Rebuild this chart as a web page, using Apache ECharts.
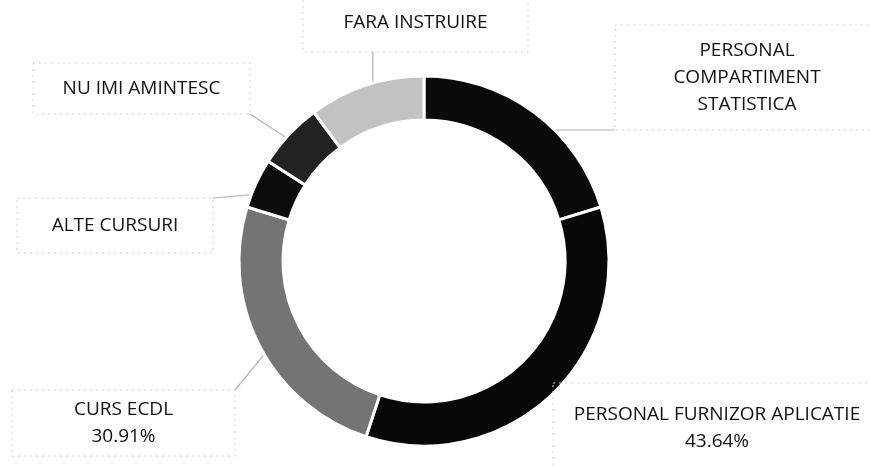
<!DOCTYPE html>
<html><head><meta charset="utf-8">
<script src="https://cdn.jsdelivr.net/npm/echarts@6/dist/echarts.min.js"></script>
<style>html,body{margin:0;padding:0;background:#fff}#c{width:870px;height:469px}</style>
</head><body><div id="c"></div>
<script>
// ---- data ----
var categories = ['PERSONAL COMPARTIMENT STATISTICA', 'PERSONAL FURNIZOR APLICATIE', 'CURS ECDL', 'ALTE CURSURI', 'NU IMI AMINTESC', 'FARA INSTRUIRE'];
var labelText = [['PERSONAL', 'COMPARTIMENT', 'STATISTICA'], ['PERSONAL FURNIZOR APLICATIE'], ['CURS ECDL'], ['ALTE CURSURI'], ['NU IMI AMINTESC'], ['FARA INSTRUIRE']];
var values = [14, 24, 17, 3, 4, 7];
var shownPercent = ['', '43.64%', '30.91%', '', '', ''];

// ---- layout / style (not data) ----
var colors = ['#0a0a0a', '#080808', '#747474', '#0c0c0c', '#222222', '#c2c2c2'];
// label boxes [x0, y0, x1, y1] and the y of the text block centre
var boxes = [[615, 25, 879, 130], [553, 383, 881, 474], [12, 390, 235, 456], [17, 198, 213, 253], [33, 63, 250, 114], [303, -6, 528, 52]];
var textCY = [80, 428.5, 423.5, 225, 90, 27];
var LH = 27;

var chart = echarts.init(document.getElementById('c'), null, {renderer: 'canvas'});
var data = categories.map(function (name, i) {
  var lines = labelText[i].slice();
  if (shownPercent[i]) lines.push(shownPercent[i]);
  var b = boxes[i];
  var h = lines.length * LH;
  var pt = textCY[i] - b[1] - h / 2;
  var pb = b[3] - textCY[i] - h / 2;
  return {
    name: name,
    value: values[i],
    itemStyle: {color: colors[i]},
    label: {
      formatter: lines.join('\n'),
      width: b[2] - b[0],
      padding: [pt, 0, pb, 0]
    }
  };
});

function leaderPoints(idx) {
  var b = boxes[idx];
  var lay = null;
  try { lay = chart.getModel().getSeriesByIndex(0).getData().getItemLayout(idx); } catch (e) { lay = null; }
  if (!lay) return null;
  var mid = (lay.startAngle + lay.endAngle) / 2;
  var rm = (lay.r0 + lay.r) / 2;
  var sx = lay.cx + rm * Math.cos(mid);
  var sy = lay.cy + rm * Math.sin(mid);
  var ex = Math.min(Math.max(sx, b[0]), b[2]);
  var ey = Math.min(Math.max(sy, b[1]), b[3]);
  return [[sx, sy], [ex, ey], [ex, ey]];
}

chart.setOption({
  animation: false,
  backgroundColor: '#ffffff',
  series: [{
    type: 'pie',
    center: [424, 261],
    radius: [141, 185],
    startAngle: 90,
    clockwise: true,
    avoidLabelOverlap: false,
    itemStyle: {borderColor: '#ffffff', borderWidth: 3},
    label: {
      show: true,
      position: 'outside',
      fontFamily: '"Open Sans", sans-serif',
      fontSize: 19,
      lineHeight: LH,
      color: '#111111',
      align: 'center',
      borderColor: '#d0d0d0',
      borderWidth: 1,
      borderType: [2, 4],
      overflow: 'none'
    },
    labelLine: {show: true, showAbove: true, length: 10, length2: 0, lineStyle: {color: '#b4b4b4', width: 1.2}},
    labelLayout: function (params) {
      var b = boxes[params.dataIndex];
      var res = {x: (b[0] + b[2]) / 2, y: (b[1] + b[3]) / 2, align: 'center', verticalAlign: 'middle'};
      var pts = leaderPoints(params.dataIndex);
      if (pts) res.labelLinePoints = pts;
      return res;
    },
    emphasis: {disabled: true},
    data: data
  }]
});
</script>
</body></html>
